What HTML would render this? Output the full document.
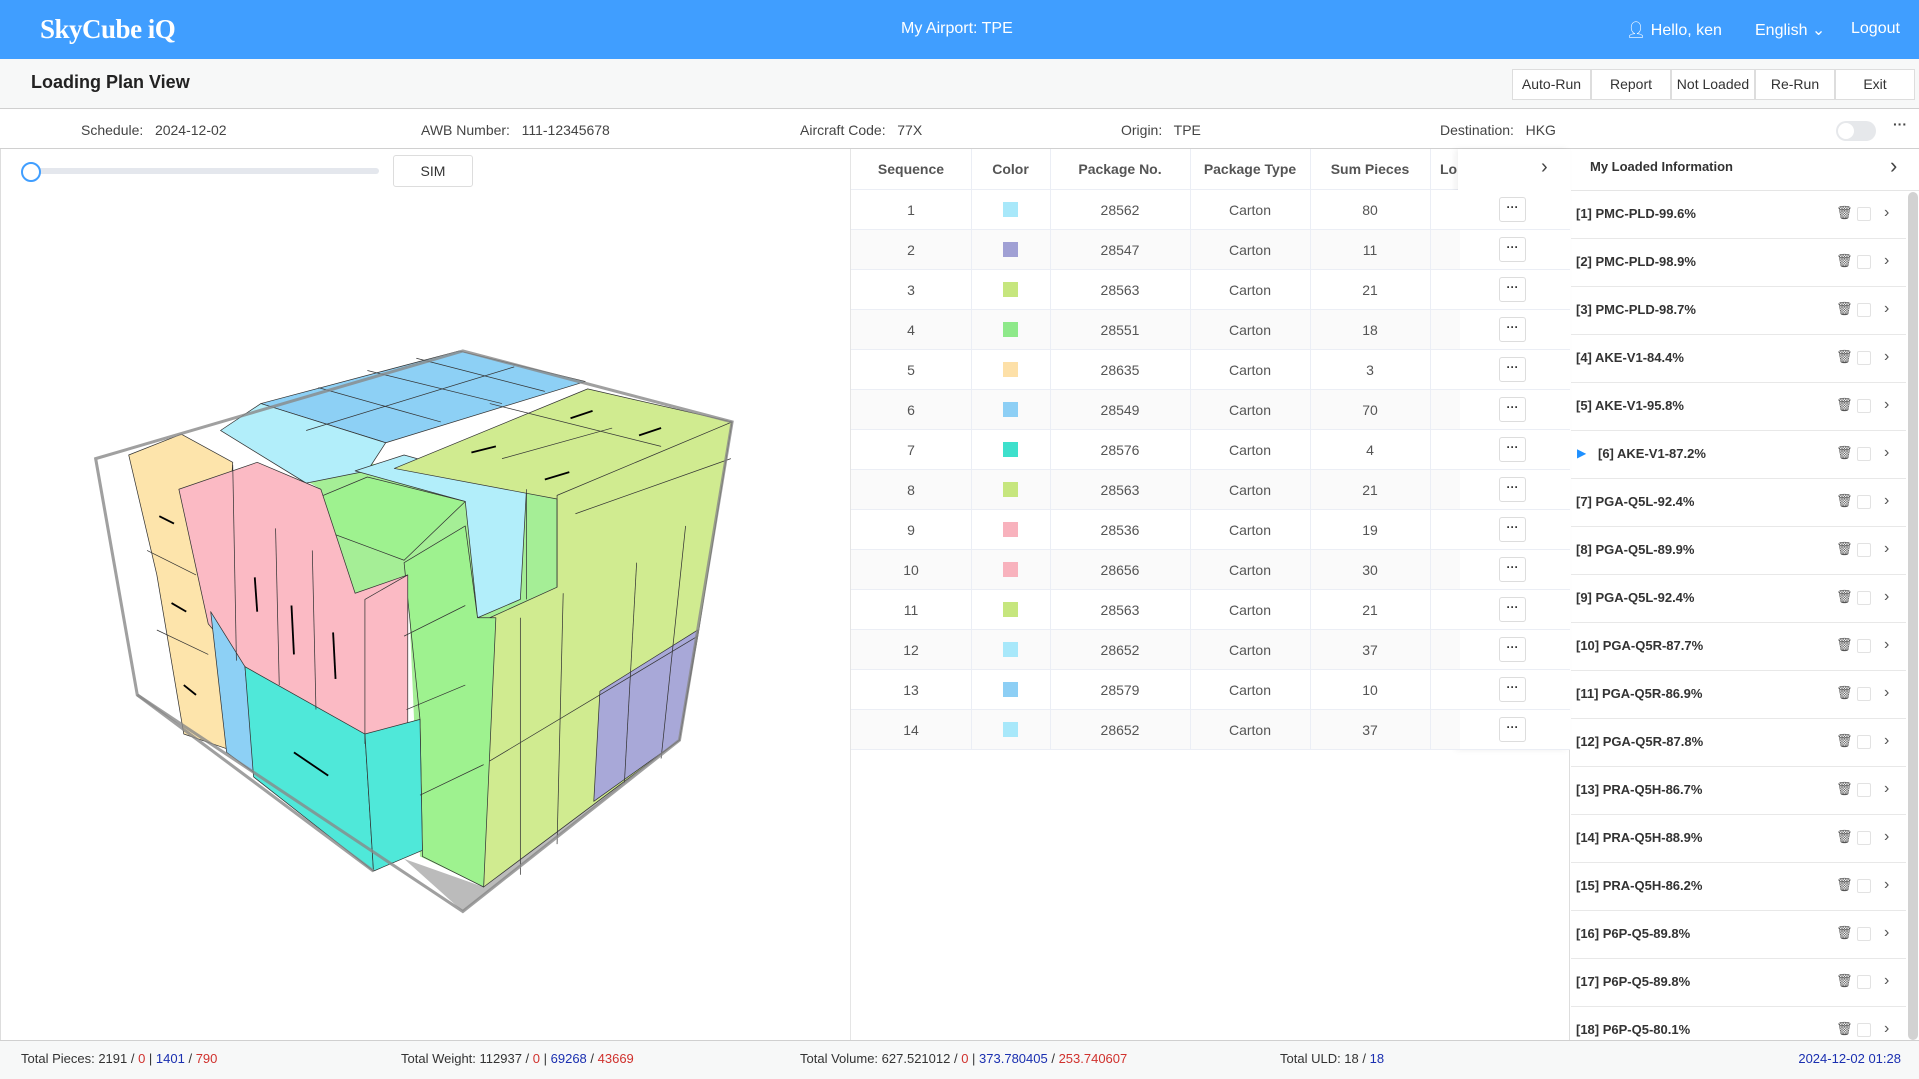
<!DOCTYPE html>
<html><head><meta charset="utf-8"><style>
*{box-sizing:border-box;margin:0;padding:0}
body{width:1919px;height:1079px;position:relative;overflow:hidden;font-family:"Liberation Sans",sans-serif;background:#fff;color:#333}
.a{position:absolute}
#hdr{left:0;top:0;width:1919px;height:59px;background:#409eff;color:#fff}
#tb{left:0;top:59px;width:1919px;height:50px;background:#f7f8f8;border-bottom:1px solid #d0d0d0}
.btn{position:absolute;top:10px;height:31px;border:1px solid #ddd;background:#fff;font-size:14px;line-height:29px;text-align:center;color:#333}
#info{left:0;top:110px;width:1919px;height:39px;border-bottom:1px solid #d0d0d0;font-size:14px;color:#444}
#info span{position:absolute;top:12px}
.th{position:absolute;top:149px;height:41px;line-height:41px;font-size:14px;font-weight:bold;color:#555;text-align:center}
.td{position:absolute;height:40px;line-height:40px;font-size:14px;color:#555;text-align:center}
.sw{position:absolute;width:15px;height:15px}
.more{position:absolute;left:1499px;width:27px;height:25px;border:1px solid #ddd;border-radius:3px;background:#fff;font-size:12px;line-height:18px;text-align:center;font-weight:bold;color:#333}
.ri{position:absolute;left:1576px;font-size:13px;font-weight:bold;color:#333}
.ic{position:absolute;font-size:13px;color:#555}
.cb{position:absolute;left:1857px;width:14px;height:14px;border:1px solid #e2e2e2;border-radius:2px}
#ft{left:0;top:1040px;width:1919px;height:39px;background:#f7f8f8;border-top:1px solid #d0d0d0;font-size:13px;color:#333}
#ft span{position:absolute;top:10px}
.b{color:#1a2fb0}.r{color:#d0312d}
</style></head><body>
<div id="hdr" class="a">
 <div class="a" style="left:40px;top:14px;font-family:'Liberation Serif',serif;font-size:27px;font-weight:bold;letter-spacing:-0.5px">SkyCube iQ</div>
 <div class="a" style="left:901px;top:20px;font-size:16px">My Airport: TPE</div>
 <div class="a" style="left:1626px;top:20px;font-size:16px">&#128100;&#xFE0E; Hello, ken</div>
 <div class="a" style="left:1755px;top:20px;font-size:16px">English &#8964;</div>
 <div class="a" style="left:1851px;top:20px;font-size:16px">Logout</div>
</div>
<div id="tb" class="a">
 <div class="a" style="left:31px;top:13px;font-size:18px;font-weight:bold;color:#222">Loading Plan View</div>
 <div class="btn" style="left:1512px;width:79px">Auto-Run</div>
 <div class="btn" style="left:1591px;width:80px">Report</div>
 <div class="btn" style="left:1671px;width:84px">Not Loaded</div>
 <div class="btn" style="left:1755px;width:80px">Re-Run</div>
 <div class="btn" style="left:1835px;width:80px">Exit</div>
</div>
<div id="info" class="a">
 <span style="left:81px">Schedule:&nbsp;&nbsp; 2024-12-02</span>
 <span style="left:421px">AWB Number:&nbsp;&nbsp; 111-12345678</span>
 <span style="left:800px">Aircraft Code:&nbsp;&nbsp; 77X</span>
 <span style="left:1121px">Origin:&nbsp;&nbsp; TPE</span>
 <span style="left:1440px">Destination:&nbsp;&nbsp; HKG</span>
 <div class="a" style="left:1836px;top:11px;width:40px;height:20px;border-radius:10px;background:#e6e8eb"><div class="a" style="left:2px;top:2px;width:16px;height:16px;border-radius:8px;background:#fff"></div></div>
 <div class="a" style="left:1893px;top:6px;font-size:14px;font-weight:bold">···</div>
</div>
<div class="a" style="left:0;top:149px;width:851px;height:891px;border-right:1px solid #e5e5e5;border-left:1px solid #ddd"></div>
<div class="a" style="left:31px;top:168px;width:348px;height:6px;background:#e4e7ed;border-radius:3px"></div>
<div class="a" style="left:21px;top:162px;width:20px;height:20px;border-radius:10px;border:2px solid #409eff;background:#fff"></div>
<div class="a" style="left:393px;top:155px;width:80px;height:32px;border:1px solid #ddd;border-radius:3px;font-size:14px;line-height:30px;text-align:center">SIM</div>
<svg class="a" style="left:0;top:149px" width="851" height="891" viewBox="0 122 695 728">
<g stroke="#333" stroke-width="0.6" stroke-linejoin="round">
<polygon points="330,702 378,745 555,605 540,610 395,725" fill="#bbb" stroke="none"/>
<polygon points="180,352 322,383 455,405 455,480 400,505 395,725 343,700 333,470 290,485 262,400" fill="#a5ee96" stroke="none"/>
<polygon points="213,330 375,287 478,312 315,362" fill="#8dd0f5"/>
<polygon points="180,352 213,330 315,362 300,385 250,395" fill="#b2eefa"/>
<polygon points="290,385 330,372 430,400 425,490 390,505 380,410" fill="#b2eefa"/>
<polygon points="322,383 480,318 598,345 455,408" fill="#d0eb90"/>
<polygon points="400,505 455,480 455,405 598,345 570,520 555,605 395,725" fill="#d0eb90"/>
<polygon points="490,565 570,515 555,605 485,655" fill="#a8a8d8"/>
<polygon points="228,420 300,390 380,410 330,458" fill="#9ef28f"/>
<polygon points="330,460 380,430 390,505 405,505 395,725 345,700 343,588" fill="#9ef28f"/>
<polygon points="105,372 148,355 190,378 180,530 185,612 150,600 128,470" fill="#fde4ab"/>
<polygon points="146,400 210,378 262,400 290,485 333,470 333,600 298,608 200,545 170,510" fill="#fbbac4"/>
<polygon points="172,500 200,545 208,632 185,615" fill="#8dd0f5"/>
<polygon points="200,545 298,600 305,712 207,635" fill="#4fe8d9"/>
<polygon points="298,600 343,588 345,695 305,712" fill="#4fe8d9"/>
<polyline points="430,400 430,490" fill="none"/>
<polyline points="298,608 298,490 333,470" fill="none"/>
<line x1="225" y1="432" x2="228" y2="560"/><line x1="255" y1="450" x2="258" y2="580"/>
<line x1="190" y1="380" x2="193" y2="540"/>
<line x1="330" y1="520" x2="380" y2="495"/><line x1="332" y1="580" x2="380" y2="560"/><line x1="343" y1="650" x2="395" y2="625"/>
<line x1="120" y1="450" x2="160" y2="470"/><line x1="128" y1="515" x2="170" y2="535"/>
<line x1="455" y1="408" x2="455" y2="480"/><line x1="425" y1="505" x2="425" y2="715"/>
<line x1="460" y1="485" x2="455" y2="690"/><line x1="520" y1="460" x2="510" y2="640"/>
<line x1="560" y1="430" x2="540" y2="620"/><line x1="400" y1="622" x2="570" y2="520"/>
<line x1="470" y1="420" x2="597" y2="375"/><line x1="400" y1="330" x2="540" y2="365"/>
<line x1="410" y1="375" x2="500" y2="350"/><line x1="260" y1="317" x2="360" y2="345"/>
<line x1="300" y1="303" x2="410" y2="330"/><line x1="340" y1="293" x2="445" y2="320"/>
<line x1="250" y1="352" x2="420" y2="300"/>
</g>
<g stroke="#000" stroke-width="1.5">
<line x1="130" y1="422" x2="142" y2="428"/><line x1="140" y1="493" x2="152" y2="500"/><line x1="150" y1="560" x2="160" y2="568"/>
<line x1="240" y1="615" x2="268" y2="634"/><line x1="385" y1="370" x2="405" y2="365"/><line x1="445" y1="392" x2="465" y2="386"/>
<line x1="466" y1="342" x2="484" y2="336"/><line x1="522" y1="356" x2="540" y2="350"/>
<line x1="238" y1="495" x2="240" y2="535"/><line x1="272" y1="517" x2="274" y2="555"/><line x1="208" y1="472" x2="210" y2="500"/>
</g>
<polygon points="78,375 378,287 598,345 555,605 378,745 112,568" fill="none" stroke="#888" stroke-width="2.5" stroke-opacity="0.8"/>
<line x1="112" y1="568" x2="305" y2="712" stroke="#888" stroke-width="2.5" stroke-opacity="0.8"/>
</svg>
<div class="a" style="left:851px;top:149px;width:719px;height:891px;border-right:1px solid #ddd"></div>
<div class="a" style="left:851px;top:189px;width:610px;height:1px;background:#ebeef5"></div>
<div class="th" style="left:851px;width:120px">Sequence</div>
<div class="th" style="left:971px;width:79px">Color</div>
<div class="th" style="left:1050px;width:140px">Package No.</div>
<div class="th" style="left:1190px;width:120px">Package Type</div>
<div class="th" style="left:1310px;width:120px">Sum Pieces</div>
<div class="th" style="left:1440px;width:20px;text-align:left;overflow:hidden">Lo</div>
<div class="a" style="left:1458px;top:149px;width:112px;height:601px;background:#fff;box-shadow:-3px 0 6px rgba(0,0,0,0.06)"></div>
<div class="a" style="left:1541px;top:156px;font-size:20px;color:#444">&#8250;</div>
<div id="rows"></div>
<div class="a" style="left:1590px;top:159px;font-size:13px;font-weight:bold;color:#333">My Loaded Information</div>
<div class="a" style="left:1890px;top:153px;font-size:22px;color:#444">&#8250;</div>
<div class="a" style="left:1571px;top:190px;width:348px;height:1px;background:#e5e5e5"></div>
<div class="a" style="left:1908px;top:192px;width:10px;height:848px;background:#d2d2d2;border-radius:5px"></div>
<div id="rp"></div>
<div id="ft" class="a">
 <span style="left:21px">Total Pieces: 2191 / <i class="r" style="font-style:normal">0</i> | <b class="b" style="font-weight:normal">1401</b> / <i class="r" style="font-style:normal">790</i></span>
 <span style="left:401px">Total Weight: 112937 / <i class="r" style="font-style:normal">0</i> | <b class="b" style="font-weight:normal">69268</b> / <i class="r" style="font-style:normal">43669</i></span>
 <span style="left:800px">Total Volume: 627.521012 / <i class="r" style="font-style:normal">0</i> | <b class="b" style="font-weight:normal">373.780405</b> / <i class="r" style="font-style:normal">253.740607</i></span>
 <span style="left:1280px">Total ULD: 18 / <b class="b" style="font-weight:normal">18</b></span>
 <span style="right:18px" class="b">2024-12-02 01:28</span>
</div>
<script>
var d=[[1,'#a8e8fa',28562,80],[2,'#a0a0d4',28547,11],[3,'#c6e67e',28563,21],[4,'#8ee98a',28551,18],[5,'#fde0a8',28635,3],[6,'#8dcff5',28549,70],[7,'#3ee0cc',28576,4],[8,'#c6e67e',28563,21],[9,'#f8b2bd',28536,19],[10,'#f8b2bd',28656,30],[11,'#c6e67e',28563,21],[12,'#a8e8fa',28652,37],[13,'#8dcff5',28579,10],[14,'#a8e8fa',28652,37]];
var h='';d.forEach(function(r,i){var y=190+i*40;var bg=i%2?'#fafafa':'#fff';
h+='<div class="a" style="left:851px;top:'+y+'px;width:609px;height:40px;background:'+bg+';border-bottom:1px solid #ebeef5"></div>';
h+='<div class="td" style="left:851px;top:'+y+'px;width:120px">'+r[0]+'</div>';
h+='<div class="sw" style="left:1003px;top:'+(y+12)+'px;background:'+r[1]+'"></div>';
h+='<div class="td" style="left:1050px;top:'+y+'px;width:140px">'+r[2]+'</div>';
h+='<div class="td" style="left:1190px;top:'+y+'px;width:120px">Carton</div>';
h+='<div class="td" style="left:1310px;top:'+y+'px;width:120px">'+r[3]+'</div>';
h+='<div class="a" style="left:1458px;top:'+(y+39)+'px;width:112px;height:1px;background:#ebeef5"></div>';
h+='<div class="more" style="top:'+(y+7)+'px">···</div>';});
[971,1050,1190,1310,1430].forEach(function(x){h+='<div class="a" style="left:'+x+'px;top:149px;width:1px;height:601px;background:#ebeef5"></div>'});
document.getElementById('rows').innerHTML=h;
var n=['PMC-PLD-99.6%','PMC-PLD-98.9%','PMC-PLD-98.7%','AKE-V1-84.4%','AKE-V1-95.8%','AKE-V1-87.2%','PGA-Q5L-92.4%','PGA-Q5L-89.9%','PGA-Q5L-92.4%','PGA-Q5R-87.7%','PGA-Q5R-86.9%','PGA-Q5R-87.8%','PRA-Q5H-86.7%','PRA-Q5H-88.9%','PRA-Q5H-86.2%','P6P-Q5-89.8%','P6P-Q5-89.8%','P6P-Q5-80.1%'];
var g='';n.forEach(function(t,i){var c=214+i*48;
if(i==5)g+='<div class="a" style="left:1577px;top:'+(c-8)+'px;font-size:12px;color:#1e90ff">&#9654;</div>';
g+='<div class="ri" style="top:'+(c-8)+'px;'+(i==5?'left:1598px':'')+'">['+(i+1)+'] '+t+'</div>';
g+='<div class="ic" style="left:1836px;top:'+(c-9)+'px">&#128465;&#xFE0E;</div>';
g+='<div class="cb" style="top:'+(c-7)+'px"></div>';
g+='<div class="ic" style="left:1884px;top:'+(c-10)+'px;font-size:16px">&#8250;</div>';
if(i<17)g+='<div class="a" style="left:1571px;top:'+(c+24)+'px;width:335px;height:1px;background:#e8e8e8"></div>';});
document.getElementById('rp').innerHTML=g;
</script>
</body></html>
